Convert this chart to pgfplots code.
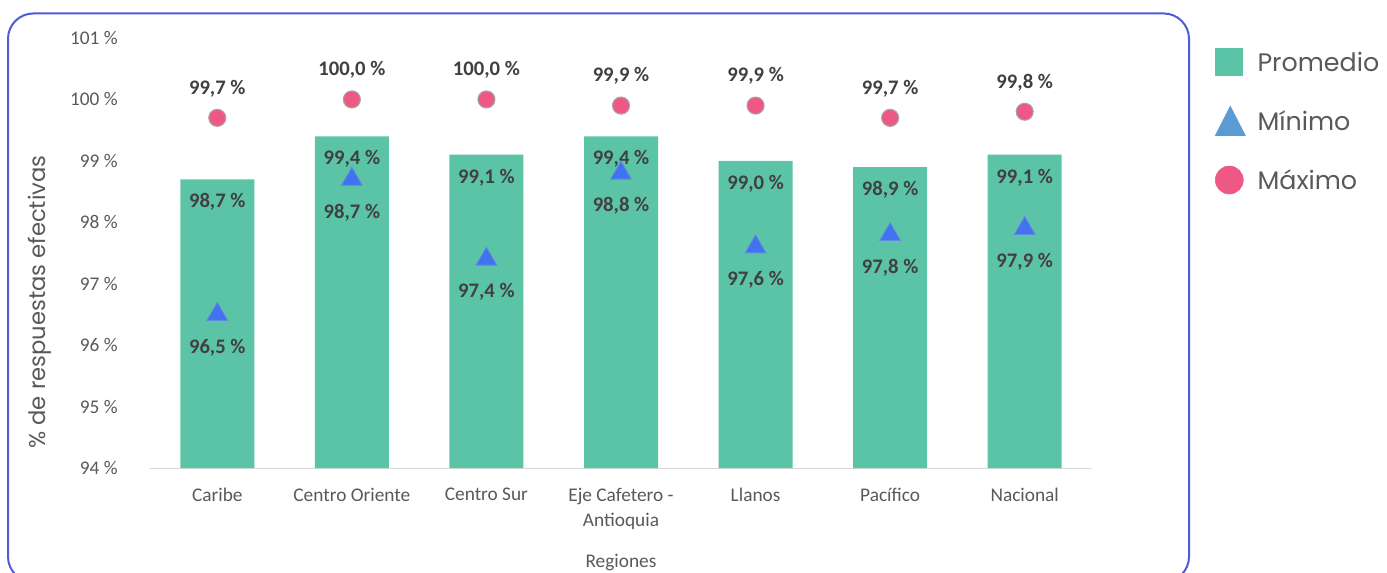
\documentclass[border=0pt]{standalone}
\usepackage{fontspec}
\setmainfont{Carlito}
\newfontfamily\popfont{Poppins}
\usepackage{pgfplots}
\pgfplotsset{compat=1.18}
\definecolor{barc}{RGB}{92,196,166}
\definecolor{tric}{RGB}{66,114,240}
\definecolor{tridraw}{RGB}{95,140,225}
\definecolor{legtri}{RGB}{91,155,213}
\definecolor{circc}{RGB}{238,88,133}
\definecolor{circdraw}{RGB}{165,165,165}
\definecolor{labc}{RGB}{64,64,64}
\definecolor{tickc}{RGB}{89,89,89}
\definecolor{axisc}{RGB}{217,217,217}
\definecolor{framec}{RGB}{80,92,214}
\begin{document}
\begin{tikzpicture}
\path[use as bounding box] (0,0) rectangle (1040.25pt,429pt);
\draw[framec, line width=1.5pt, rounded corners=19pt] (6pt,-7.5pt) rectangle (891.75pt,418.9pt);
\begin{axis}[
  at={(112.5pt,78pt)}, anchor=south west,
  width=706.5pt, height=322.5pt, scale only axis,
  xmin=-0.5, xmax=6.5, ymin=94, ymax=101,
  xtick={0,...,6},
  xticklabels={Caribe, Centro Oriente, Centro Sur, {Eje Cafetero -\\Antioquia}, Llanos, Pacífico, Nacional},
  ytick={94,...,101},
  yticklabel={\pgfmathprintnumber{\tick} \%},
  /pgf/number format/assume math mode=true,
  axis x line*=bottom, axis y line*=left,
  y axis line style={draw=none},
  x axis line style={draw=axisc, line width=0.75pt, -},
  major tick length=0pt,
  tick label style={font=\fontsize{14.5}{18.75}\selectfont, text=tickc},
  yticklabel style={anchor=east, inner sep=0pt, xshift=-24pt},
  xticklabel style={anchor=north, inner sep=0pt, yshift=-15pt, align=center},
  xlabel={Regiones},
  xlabel style={at={(axis description cs:0.5,0)}, anchor=center, yshift=-71pt, font=\fontsize{14.5}{18.75}\selectfont, text=tickc},
  ylabel={\% de respuestas efectivas},
  ylabel style={at={(axis description cs:-0.1168,0.386)}, anchor=center, font=\popfont\fontsize{17}{20}\selectfont, text=tickc},
  legend style={at={(1.1306,0.977)}, anchor=north west, draw=none, fill=none, inner sep=0pt, outer sep=0pt,
    font=\popfont\fontsize{19}{23}\selectfont, text=tickc, row sep=22.5pt, column sep=9pt,
    nodes={inner sep=0pt}},
  legend cell align=left,
  nodes near coords={\pgfmathprintnumber[fixed,fixed zerofill,precision=1,use comma]{\pgfplotspointmeta} \%},
  every node near coord/.append style={font=\bfseries\fontsize{15.5}{18}\selectfont, text=labc, anchor=center},
]
\addplot[ybar, bar width=55.5pt, bar shift=0pt, fill=barc, draw=none,
  every node near coord/.append style={yshift=-17pt},
  legend image code/.code={\fill[barc] (0pt,-10pt) rectangle (21pt,11pt);}]
  coordinates {(0,98.7) (1,99.4) (2,99.1) (3,99.4) (4,99.0) (5,98.9) (6,99.1)};
\addlegendentry{Promedio}
\addplot[only marks, mark=triangle*, mark size=9pt, mark options={fill=tric, draw=tridraw, line width=0.6pt},
  every node near coord/.append style={yshift=-24.75pt},
  legend image code/.code={\fill[legtri] (0pt,-10.5pt) -- (22.5pt,-10.5pt) -- (11.25pt,11.5pt) -- cycle;}]
  coordinates {(0,96.5) (1,98.7) (2,97.4) (3,98.8) (4,97.6) (5,97.8) (6,97.9)};
\addlegendentry{Mínimo}
\addplot[only marks, mark=*, mark size=6.4pt, mark options={fill=circc, draw=circdraw, line width=0.8pt},
  every node near coord/.append style={yshift=22pt},
  legend image code/.code={\fill[circc] (10.5pt,0.5pt) circle (10.5pt);}]
  coordinates {(0,99.7) (1,100.0) (2,100.0) (3,99.9) (4,99.9) (5,99.7) (6,99.8)};
\addlegendentry{Máximo}
\draw[axisc, line width=0.75pt] (rel axis cs:0,0) -- ++(0pt,-90pt);
\draw[axisc, line width=0.75pt] (rel axis cs:1,0) -- ++(0pt,-90pt);
\end{axis}
\end{tikzpicture}
\end{document}
